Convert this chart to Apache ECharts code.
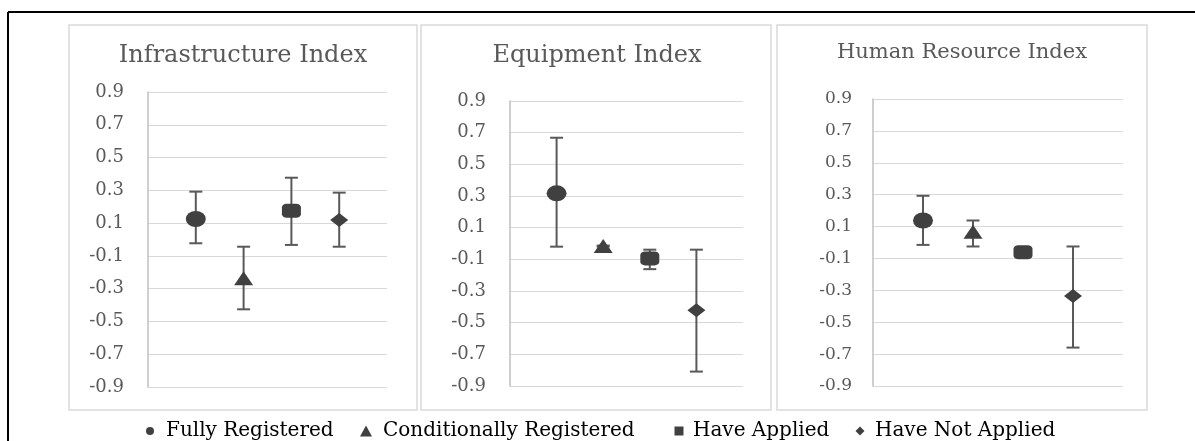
<!DOCTYPE html>
<html>
<head>
<meta charset="utf-8">
<script src="https://cdn.jsdelivr.net/npm/echarts@6/dist/echarts.min.js"></script>
<style>html,body{margin:0;padding:0;background:#fff}#c{width:1195px;height:441px}</style>
</head>
<body>
<div id="c"></div>
<script>
// ---- data ----
const categories = ['Fully Registered', 'Conditionally Registered', 'Have Applied', 'Have Not Applied'];
const symbols = ['circle', 'triangle', 'roundRect', 'diamond'];
const panelTitles = ['Infrastructure Index', 'Equipment Index', 'Human Resource Index'];
const yTicks = [-0.9, -0.7, -0.5, -0.3, -0.1, 0.1, 0.3, 0.5, 0.7, 0.9];

const infraMean = [0.125, -0.237, 0.176, 0.119];
const infraLow  = [-0.023, -0.426, -0.033, -0.044];
const infraHigh = [0.292, -0.044, 0.377, 0.286];

const equipMean = [0.317, -0.016, -0.094, -0.422];
const equipLow  = [-0.020, -0.019, -0.162, -0.809];
const equipHigh = [0.668, -0.013, -0.039, -0.039];

const humanMean = [0.138, 0.067, -0.061, -0.335];
const humanLow  = [-0.015, -0.025, -0.064, -0.659];
const humanHigh = [0.293, 0.138, -0.058, -0.025];

const means = [infraMean, equipMean, humanMean];
const lows = [infraLow, equipLow, humanLow];
const highs = [infraHigh, equipHigh, humanHigh];

// ---- layout ----
const grids = [
  {left: 148, top: 92, width: 239, height: 295},
  {left: 510, top: 101, width: 233, height: 285},
  {left: 873, top: 99, width: 250, height: 287}
];
const boxes = [[69, 25, 348, 385], [421, 25, 350, 385], [777, 25, 370, 385]];
const titlePos = [[243, 44, 24], [597, 44, 24], [962, 42, 21]];
const labelSize = [18, 18, 17];
const symbolSizes = [[20, 16], [19, 14], [19, 14], [18, 14]];
const legendPos = [146, 360, 674.5, 855.5];
const legendPad = [7, 6, 4.5, 5.5];

const FONT = 'DejaVu Serif';
const BAR = '#595959';
const MARK = '#404040';

const chart = echarts.init(document.getElementById('c'), null, {renderer: 'canvas'});

const series = [];
const xAxes = [], yAxes = [];
grids.forEach((g, p) => {
  xAxes.push({gridIndex: p, type: 'value', min: 0, max: 5, show: false});
  yAxes.push({
    gridIndex: p, type: 'value', min: yTicks[0], max: yTicks[yTicks.length - 1], interval: 0.2,
    axisLine: {show: true, lineStyle: {color: '#bfbfbf', width: 1.5}},
    axisTick: {show: false},
    splitLine: {show: true, lineStyle: {color: '#d9d9d9', width: 1}},
    axisLabel: {
      margin: p === 2 ? 21 : 24, color: BAR, fontFamily: FONT, fontSize: labelSize[p],
      formatter: v => (Math.round(v * 10) / 10).toFixed(1)
    }
  });
  // error bars
  series.push({
    type: 'custom', xAxisIndex: p, yAxisIndex: p, silent: true, z: 2,
    data: categories.map((c, i) => [i + 1, lows[p][i], highs[p][i]]),
    renderItem: (params, api) => {
      const x = api.value(0);
      const top = api.coord([x, api.value(2)]);
      const bot = api.coord([x, api.value(1)]);
      const hw = 6.5;
      const st = {stroke: BAR, lineWidth: 2};
      return {type: 'group', children: [
        {type: 'line', shape: {x1: top[0], y1: top[1], x2: bot[0], y2: bot[1]}, style: st},
        {type: 'line', shape: {x1: top[0] - hw, y1: top[1], x2: top[0] + hw, y2: top[1]}, style: st},
        {type: 'line', shape: {x1: bot[0] - hw, y1: bot[1], x2: bot[0] + hw, y2: bot[1]}, style: st}
      ]};
    }
  });
  categories.forEach((c, i) => {
    series.push({
      type: 'scatter', name: c, xAxisIndex: p, yAxisIndex: p, z: 5,
      symbol: symbols[i], symbolSize: symbolSizes[i],
      itemStyle: {color: MARK, opacity: 1},
      data: [[i + 1, means[p][i]]]
    });
  });
});

const legendIcons = ['circle', 'triangle', 'rect', 'diamond'];
const legendSizes = [[8, 8], [12, 11], [9, 9], [9, 9]];

chart.setOption({
  animation: false,
  title: panelTitles.map((t, p) => ({
    text: t, left: titlePos[p][0], top: titlePos[p][1], textAlign: 'center', padding: 0,
    textStyle: {fontFamily: FONT, fontWeight: 'normal', fontSize: titlePos[p][2], color: BAR}
  })),
  grid: grids,
  xAxis: xAxes,
  yAxis: yAxes,
  legend: categories.map((c, i) => ({
    data: [{name: c, icon: legendIcons[i]}],
    left: legendPos[i], top: 421, padding: 0,
    itemWidth: legendSizes[i][0], itemHeight: legendSizes[i][1], itemGap: 0,
    selectedMode: false,
    textStyle: {fontFamily: FONT, fontSize: 20, color: '#000', padding: [0, 0, 0, legendPad[i]]}
  })),
  graphic: [
    {type: 'line', shape: {x1: 8, y1: 12, x2: 1195, y2: 12}, style: {stroke: '#000', lineWidth: 2}},
    {type: 'line', shape: {x1: 8, y1: 12, x2: 8, y2: 441}, style: {stroke: '#000', lineWidth: 2}}
  ].concat(boxes.map(b => ({
    type: 'rect', shape: {x: b[0], y: b[1], width: b[2], height: b[3]},
    style: {fill: 'none', stroke: '#d9d9d9', lineWidth: 1.5}, z: -1
  }))),
  series: series
});
</script>
</body>
</html>
